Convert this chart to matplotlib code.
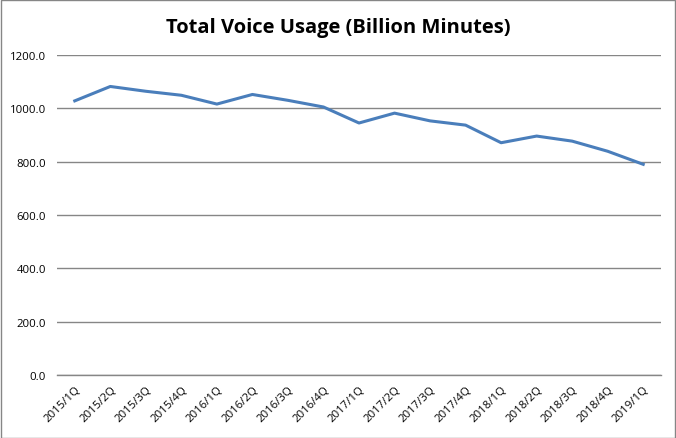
import matplotlib
matplotlib.use("Agg")
import matplotlib.pyplot as plt
from matplotlib.patches import Rectangle

categories = ["2015/1Q", "2015/2Q", "2015/3Q", "2015/4Q", "2016/1Q", "2016/2Q",
              "2016/3Q", "2016/4Q", "2017/1Q", "2017/2Q", "2017/3Q", "2017/4Q",
              "2018/1Q", "2018/2Q", "2018/3Q", "2018/4Q", "2019/1Q"]
voice_usage = [1028, 1082, 1064, 1049, 1016, 1052, 1030, 1005, 945, 982,
               953, 937, 871, 896, 877, 839, 790]
y_ticks = [0, 200, 400, 600, 800, 1000, 1200]

plt.rcParams['font.family'] = ['Open Sans', 'DejaVu Sans']

fig = plt.figure(figsize=(6.76, 4.39), dpi=100)
ax = fig.add_axes([57/676, 63/439, 604/676, 320/439])

x = list(range(len(categories)))
ax.plot(x, voice_usage, color="#4A7EBB", linewidth=2.2, solid_joinstyle="round")

ax.set_xlim(-0.5, len(categories) - 0.5)
ax.set_ylim(0, 1200)
ax.set_yticks(y_ticks)
ax.set_yticklabels([f"{v:.1f}" for v in y_ticks], fontsize=8.2)
ax.set_xticks(x)
ax.set_xticklabels(categories, rotation=45, ha="right", rotation_mode="anchor", fontsize=8.2)
ax.tick_params(axis="both", length=0)
ax.tick_params(axis="x", pad=6)
ax.tick_params(axis="y", pad=8)
ax.grid(axis="y", color="#868686", linewidth=1)
ax.set_axisbelow(True)
for s in ["top", "right", "left"]:
    ax.spines[s].set_visible(False)
ax.spines["bottom"].set_color("#868686")
ax.spines["bottom"].set_linewidth(1)

fig.text(0.5, 1 - 28/439, "Total Voice Usage (Billion Minutes)", ha="center", va="center",
         fontsize=14.5, fontweight="bold")

fig.patches.append(Rectangle((0.5/676, 0.5/439), 1 - 1.5/676, 1 - 1.5/439, transform=fig.transFigure,
                             fill=False, edgecolor="#868686", linewidth=1))

fig.savefig("out.png", dpi=100)
